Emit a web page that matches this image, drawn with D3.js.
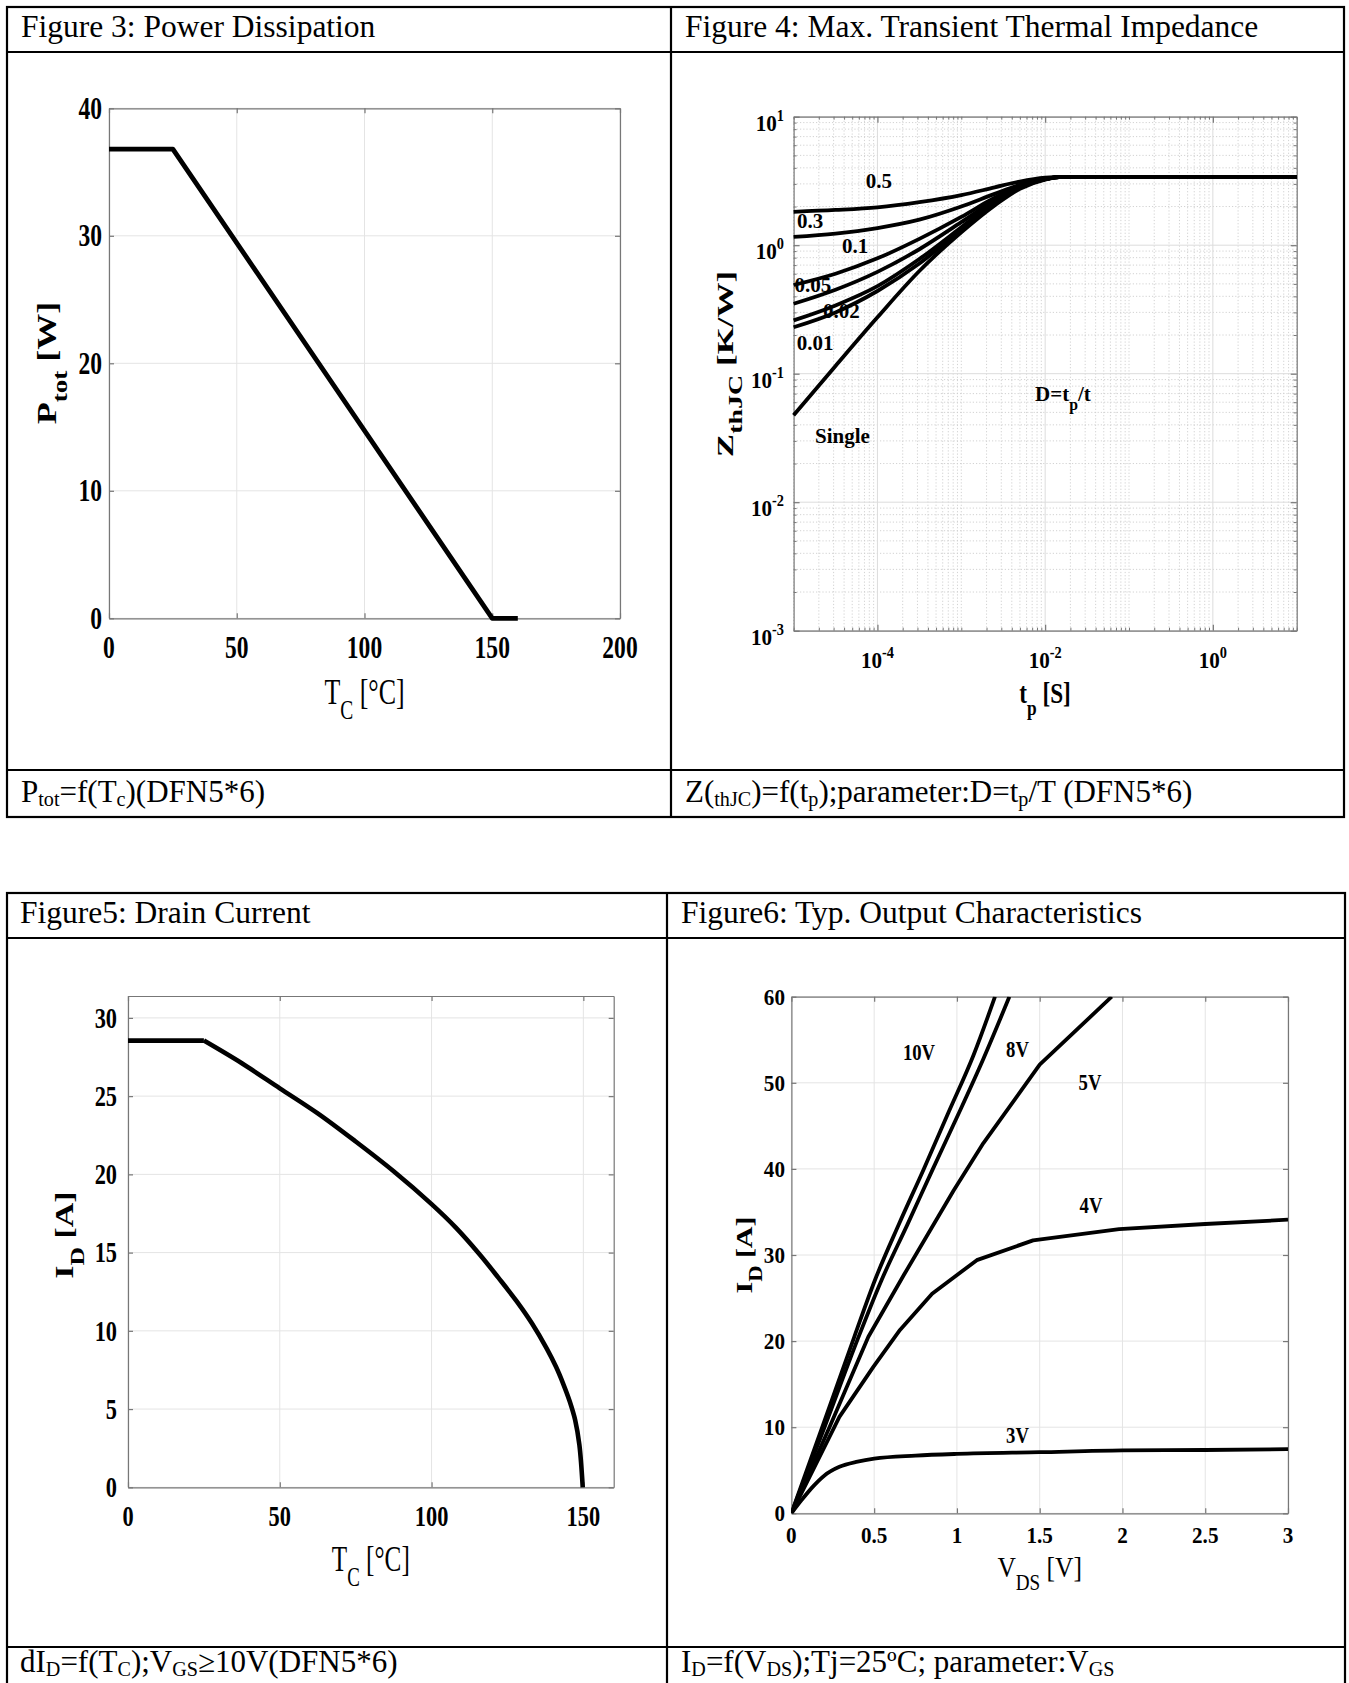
<!DOCTYPE html>
<html>
<head>
<meta charset="utf-8">
<script src="https://cdn.jsdelivr.net/npm/d3@7"></script>
<style>
  body { margin: 0; background: #fff; }
  svg { display: block; }
  text { font-family: "Liberation Serif", "Times New Roman", serif; fill: #000; white-space: pre; }
</style>
</head>
<body>
<div id="page"></div>
<script>
// ---- Figure 3: power dissipation ----
const ptotTc = [0, 25, 150, 160];
const ptotW = [36.8, 36.8, 0, 0];
const ptotXTicks = [0, 50, 100, 150, 200];
const ptotYTicks = [0, 10, 20, 30, 40];

// ---- Figure 4: transient thermal impedance (t in s, Z in K/W) ----
const zthTp = [1e-5, 3.16e-5, 1e-4, 3.16e-4, 1e-3, 2.5e-3, 5e-3, 1e-2, 1.6e-2, 10];
const zth05 = [1.82, 1.88, 1.97, 2.16, 2.45, 2.82, 3.13, 3.35, 3.40, 3.40];
const zth03 = [1.16, 1.23, 1.36, 1.58, 2.00, 2.51, 2.95, 3.27, 3.40, 3.40];
const zth01 = [0.49, 0.60, 0.79, 1.12, 1.66, 2.34, 2.88, 3.27, 3.40, 3.40];
const zth005 = [0.35, 0.45, 0.62, 0.93, 1.51, 2.24, 2.85, 3.27, 3.40, 3.40];
const zth002 = [0.26, 0.34, 0.48, 0.78, 1.38, 2.19, 2.82, 3.27, 3.40, 3.40];
const zth001 = [0.23, 0.30, 0.44, 0.72, 1.32, 2.14, 2.79, 3.27, 3.40, 3.40];
const zthSingle = [0.0475, 0.115, 0.275, 0.63, 1.26, 2.04, 2.75, 3.24, 3.40, 3.40];
const zthNames = ["0.5", "0.3", "0.1", "0.05", "0.02", "0.01", "Single"];
const zthLabelTp = [1.04e-4, 1.57e-5, 5.4e-5, 1.7e-5, 3.72e-5, 1.8e-5, 3.83e-5];
const zthLabelZ = [2.79, 1.36, 0.87, 0.432, 0.271, 0.153, 0.0289];
const zthXTicks = [1e-4, 1e-2, 1];
const zthYTicks = [1e-3, 1e-2, 1e-1, 1, 10];

// ---- Figure 5: drain current vs case temperature ----
const idTc = [0, 25, 37.5, 50, 62.5, 75, 87.5, 100, 108, 116, 122, 128, 133, 138, 141, 143.4, 145.5, 147.3, 148.7, 149.8];
const idA = [28.55, 28.55, 27.1, 25.5, 23.9, 22.1, 20.2, 18.1, 16.6, 14.85, 13.4, 11.9, 10.5, 8.85, 7.7, 6.6, 5.5, 4.3, 2.7, 0];
const idXTicks = [0, 50, 100, 150];
const idYTicks = [0, 5, 10, 15, 20, 25, 30];

// ---- Figure 6: output characteristics ----
const vds10 = [0, 0.19, 0.38, 0.505, 0.65, 0.80, 0.95, 1.10, 1.23];
const id10 = [0, 10.2, 20.5, 27.1, 33.6, 40, 46.6, 53.2, 60];
const vds8 = [0, 0.2, 0.4, 0.545, 0.7, 0.85, 1.0, 1.16, 1.317];
const id8 = [0, 10, 20.2, 27.1, 33.5, 39.8, 46, 52.8, 60];
const vds5 = [0, 0.23, 0.465, 0.68, 0.98, 1.16, 1.50, 1.935];
const id5 = [0, 10, 20.5, 27.7, 37.5, 43.0, 52.1, 60];
const vds4 = [0, 0.13, 0.29, 0.495, 0.656, 0.85, 1.12, 1.46, 1.98, 2.5, 3.0];
const id4 = [0, 5.0, 11.2, 17.0, 21.3, 25.5, 29.4, 31.7, 33.0, 33.6, 34.1];
const vds3 = [0, 0.06, 0.13, 0.2, 0.29, 0.4, 0.5, 0.75, 1.0, 1.5, 2.0, 2.5, 3.0];
const id3 = [0, 1.5, 3.1, 4.4, 5.4, 6.0, 6.35, 6.7, 6.9, 7.1, 7.3, 7.35, 7.45];
const vgsNames = ["10V", "8V", "5V", "4V", "3V"];
const vgsLabelV = [0.771, 1.366, 1.804, 1.81, 1.366];
const vgsLabelI = [52.65, 53.0, 49.16, 34.88, 8.16];
const outXTicks = [0, 0.5, 1, 1.5, 2, 2.5, 3];
const outYTicks = [0, 10, 20, 30, 40, 50, 60];

const AXIS = "#777";
const GRID = "#e4e4e4";

const svg = d3.select("#page").append("svg")
    .attr("width", 1349)
    .attr("height", 1683);

// text with sub/superscript parts
function rich(g, x, y, parts, o) {
  const F = o.size, sx = o.sx || 1;
  let tf = "translate(" + x + "," + y + ")";
  if (sx !== 1) tf += " scale(" + sx + ",1)";
  if (o.rotate) tf += " rotate(-90)";
  const t = g.append("text")
      .attr("transform", tf)
      .attr("text-anchor", o.anchor || "start")
      .attr("font-size", F)
      .attr("font-weight", o.bold ? "bold" : "normal");
  let cur = 0;
  parts.forEach((p) => {
    const s = typeof p === "string" ? p : p[0];
    const mode = typeof p === "string" ? "" : p[1];
    let shift = 0, size = F;
    if (mode === "sub") { shift = F * (o.subShift ?? 0.42); size = F * (o.subSize ?? 0.75); }
    if (mode === "sup") { shift = -F * (o.supShift ?? 0.42); size = F * (o.supSize ?? 0.7); }
    t.append("tspan").attr("dy", shift - cur).attr("font-size", size).text(s);
    cur = shift;
  });
  return t;
}

// ---- the two tables ----
const TABLES = [
  {x0: 7, x1: 1344, xm: 671, y0: 7, yh: 52, yc: 770, y1: 817},
  {x0: 7, x1: 1345, xm: 667, y0: 893, yh: 938, yc: 1647, y1: 1700}
];
TABLES.forEach((t) => {
  const g = svg.append("g").attr("stroke", "#000").attr("stroke-width", 2.2).attr("fill", "none");
  g.append("rect").attr("x", t.x0).attr("y", t.y0).attr("width", t.x1 - t.x0).attr("height", t.y1 - t.y0);
  g.append("line").attr("x1", t.x0).attr("x2", t.x1).attr("y1", t.yh).attr("y2", t.yh);
  g.append("line").attr("x1", t.x0).attr("x2", t.x1).attr("y1", t.yc).attr("y2", t.yc);
  g.append("line").attr("x1", t.xm).attr("x2", t.xm).attr("y1", t.y0).attr("y2", t.y1);
});

const cap = {size: 31, subShift: 0.12, subSize: 0.65};
rich(svg, 21, 37, ["Figure 3: Power Dissipation"], {size: 31.5});
rich(svg, 685, 37, ["Figure 4: Max. Transient Thermal Impedance"], {size: 31.5});
rich(svg, 20, 923, ["Figure5: Drain Current"], {size: 31.5});
rich(svg, 681, 923, ["Figure6: Typ. Output Characteristics"], {size: 31.5});
rich(svg, 21, 802, ["P", ["tot", "sub"], "=f(T", ["c", "sub"], ")(DFN5*6)"], cap);
rich(svg, 685, 802, ["Z(", ["thJC", "sub"], ")=f(t", ["p", "sub"], ");parameter:D=t", ["p", "sub"], "/T (DFN5*6)"], cap);
rich(svg, 20, 1672, ["dI", ["D", "sub"], "=f(T", ["C", "sub"], ");V", ["GS", "sub"], "≥10V(DFN5*6)"], cap);
rich(svg, 681, 1672, ["I", ["D", "sub"], "=f(V", ["DS", "sub"], ");Tj=25ºC; parameter:V", ["GS", "sub"]], cap);

// box, inward ticks on all four sides
function box(g, xs, ys, xt, yt, len) {
  const [xa, xb] = xs.range(), [ya, yb] = ys.range();
  const sides = [
    [d3.axisBottom(xs).tickValues(xt), "translate(0," + ya + ")"],
    [d3.axisTop(xs).tickValues(xt), "translate(0," + yb + ")"],
    [d3.axisLeft(ys).tickValues(yt), "translate(" + xa + ",0)"],
    [d3.axisRight(ys).tickValues(yt), "translate(" + xb + ",0)"]
  ];
  sides.forEach(([ax, tr]) => {
    g.append("g").attr("transform", tr).attr("color", AXIS)
      .call(ax.tickSize(-len).tickSizeOuter(0).tickFormat(""))
      .call((s) => s.selectAll("text").remove())
      .call((s) => s.selectAll("path,line").attr("stroke-width", 1.2));
  });
}

function grid(g, xs, ys, xt, yt, color, dash, w) {
  const [xa, xb] = xs.range(), [ya, yb] = ys.range();
  g.append("g").selectAll("line").data(xt).join("line")
      .attr("x1", (d) => xs(d)).attr("x2", (d) => xs(d))
      .attr("y1", ya).attr("y2", yb)
      .attr("stroke", color).attr("stroke-width", w).attr("stroke-dasharray", dash);
  g.append("g").selectAll("line").data(yt).join("line")
      .attr("y1", (d) => ys(d)).attr("y2", (d) => ys(d))
      .attr("x1", xa).attr("x2", xb)
      .attr("stroke", color).attr("stroke-width", w).attr("stroke-dasharray", dash);
}

function linearTickLabels(g, xs, ys, xt, yt, o) {
  xt.forEach((v) => rich(g, xs(v), o.xBase, [String(v)], {size: o.size, sx: o.sx, anchor: "middle", bold: true}));
  yt.forEach((v) => rich(g, o.yRight, ys(v) + o.size * 0.34, [String(v)], {size: o.size, sx: o.sx, anchor: "end", bold: true}));
}

function curve(g, xArr, yArr, xs, ys, w, kind) {
  const pts = xArr.map((x, i) => [x, yArr[i]]);
  g.append("path")
      .datum(pts)
      .attr("fill", "none")
      .attr("stroke", "#000")
      .attr("stroke-width", w)
      .attr("stroke-linejoin", "round")
      .attr("d", d3.line().x((d) => xs(d[0])).y((d) => ys(d[1])).curve(kind || d3.curveLinear));
}

// ---------- Figure 3 ----------
{
  const xs = d3.scaleLinear().domain([0, 200]).range([109, 620]);
  const ys = d3.scaleLinear().domain([0, 40]).range([618.3, 108.3]);
  const g = svg.append("g");
  grid(g, xs, ys, ptotXTicks, ptotYTicks, GRID, null, 1);
  box(g, xs, ys, ptotXTicks, ptotYTicks, 5);
  curve(g, ptotTc, ptotW, xs, ys, 4.8);
  linearTickLabels(g, xs, ys, ptotXTicks, ptotYTicks, {size: 31, sx: 0.76, xBase: 658, yRight: 102});
  rich(g, 364.5, 704, ["T", ["C", "sub"], " [°C]"], {size: 36, sx: 0.72, anchor: "middle"});
  rich(g, 56, 363, ["P", ["tot", "sub"], " [W]"], {size: 36, sx: 0.75, anchor: "middle", bold: true, rotate: true});
}

// ---------- Figure 4 ----------
{
  const xs = d3.scaleLog().domain([1e-5, 10]).range([793.6, 1296.7]);
  const ys = d3.scaleLog().domain([1e-3, 10]).range([630.7, 116.7]);
  const g = svg.append("g");
  const isMaj = (v, list) => list.some((m) => Math.abs(v / m - 1) < 1e-6);
  const xMinor = xs.ticks().filter((v) => !isMaj(v, zthXTicks));
  const yMinor = ys.ticks().filter((v) => !isMaj(v, zthYTicks));
  grid(g, xs, ys, xMinor, yMinor, "#cdcdcd", "1.2,2", 0.9);
  grid(g, xs, ys, zthXTicks, zthYTicks, "#dcdcdc", null, 1);
  box(g, xs, ys, zthXTicks, zthYTicks, 6);
  // minor ticks
  [[d3.axisBottom(xs).tickValues(xMinor), "translate(0,630.7)"],
   [d3.axisTop(xs).tickValues(xMinor), "translate(0,116.7)"],
   [d3.axisLeft(ys).tickValues(yMinor), "translate(793.6,0)"],
   [d3.axisRight(ys).tickValues(yMinor), "translate(1296.7,0)"]].forEach(([ax, tr]) => {
    g.append("g").attr("transform", tr).attr("color", AXIS)
      .call(ax.tickSize(-3).tickSizeOuter(0).tickFormat(""))
      .call((s) => s.select(".domain").remove())
      .call((s) => s.selectAll("text").remove());
  });
  const series = [zth05, zth03, zth01, zth005, zth002, zth001, zthSingle];
  series.forEach((s) => curve(g, zthTp, s, xs, ys, 3.8, d3.curveMonotoneX));
  const tl = {size: 24, sx: 0.88, bold: true, supShift: 0.42, supSize: 0.68};
  zthXTicks.forEach((v) => rich(g, xs(v), 668, ["10", [String(Math.round(Math.log10(v))), "sup"]], Object.assign({anchor: "middle"}, tl)));
  zthYTicks.forEach((v) => rich(g, 784, ys(v) + 14, ["10", [String(Math.round(Math.log10(v))), "sup"]], Object.assign({anchor: "end"}, tl)));
  zthNames.forEach((n, i) => rich(g, xs(zthLabelTp[i]), ys(zthLabelZ[i]), [n], {size: 21, anchor: "middle", bold: true}));
  rich(g, xs(1.63e-2), ys(0.0613), ["D=t", ["p", "sub"], "/t"], {size: 21, anchor: "middle", bold: true, subShift: 0.45});
  rich(g, 1045, 703, ["t", ["p", "sub"], " [S]"], {size: 29, sx: 0.8, anchor: "middle", bold: true});
  rich(g, 733, 364, ["Z", ["thJC", "sub"], " [K/W]"], {size: 35, sx: 0.64, anchor: "middle", bold: true, rotate: true, subSize: 0.8});
}

// ---------- Figure 5 ----------
{
  const xs = d3.scaleLinear().domain([0, 160]).range([128, 613.7]);
  const ys = d3.scaleLinear().domain([0, 31.4]).range([1487.3, 996]);
  const g = svg.append("g");
  grid(g, xs, ys, idXTicks, idYTicks, GRID, null, 1);
  box(g, xs, ys, idXTicks, idYTicks, 5);
  curve(g, idTc.slice(0, 2), idA.slice(0, 2), xs, ys, 4.6);
  curve(g, idTc.slice(1), idA.slice(1), xs, ys, 4.6, d3.curveCatmullRom.alpha(0.5));
  linearTickLabels(g, xs, ys, idXTicks, idYTicks, {size: 29, sx: 0.77, xBase: 1526, yRight: 117});
  rich(g, 370.8, 1571, ["T", ["C", "sub"], " [°C]"], {size: 36, sx: 0.7, anchor: "middle"});
  rich(g, 73, 1235, ["I", ["D", "sub"], " [A]"], {size: 34, sx: 0.75, anchor: "middle", bold: true, rotate: true});
}

// ---------- Figure 6 ----------
{
  const xs = d3.scaleLinear().domain([0, 3]).range([791.4, 1288]);
  const ys = d3.scaleLinear().domain([0, 60]).range([1513.3, 996.7]);
  const g = svg.append("g");
  grid(g, xs, ys, outXTicks, outYTicks, GRID, null, 1);
  box(g, xs, ys, outXTicks, outYTicks, 5);
  g.append("clipPath").attr("id", "clip6").append("rect")
      .attr("x", 791.4).attr("y", 996.7).attr("width", 1288 - 791.4).attr("height", 1513.3 - 996.7);
  const gc = g.append("g").attr("clip-path", "url(#clip6)");
  curve(gc, vds10, id10, xs, ys, 3.8, d3.curveMonotoneX);
  curve(gc, vds8, id8, xs, ys, 3.8, d3.curveMonotoneX);
  curve(gc, vds5, id5, xs, ys, 3.8);
  curve(gc, vds4, id4, xs, ys, 3.8);
  curve(gc, vds3, id3, xs, ys, 3.8, d3.curveMonotoneX);
  linearTickLabels(g, xs, ys, outXTicks, outYTicks, {size: 23, sx: 0.92, xBase: 1543, yRight: 785});
  vgsNames.forEach((n, i) => rich(g, xs(vgsLabelV[i]), ys(vgsLabelI[i]), [n], {size: 24, sx: 0.78, anchor: "middle", bold: true}));
  rich(g, 1039.7, 1577, ["V", ["DS", "sub"], " [V]"], {size: 30, sx: 0.85, anchor: "middle"});
  rich(g, 752, 1255, ["I", ["D", "sub"], " [A]"], {size: 30, sx: 0.8, anchor: "middle", bold: true, rotate: true});
}
</script>
</body>
</html>
